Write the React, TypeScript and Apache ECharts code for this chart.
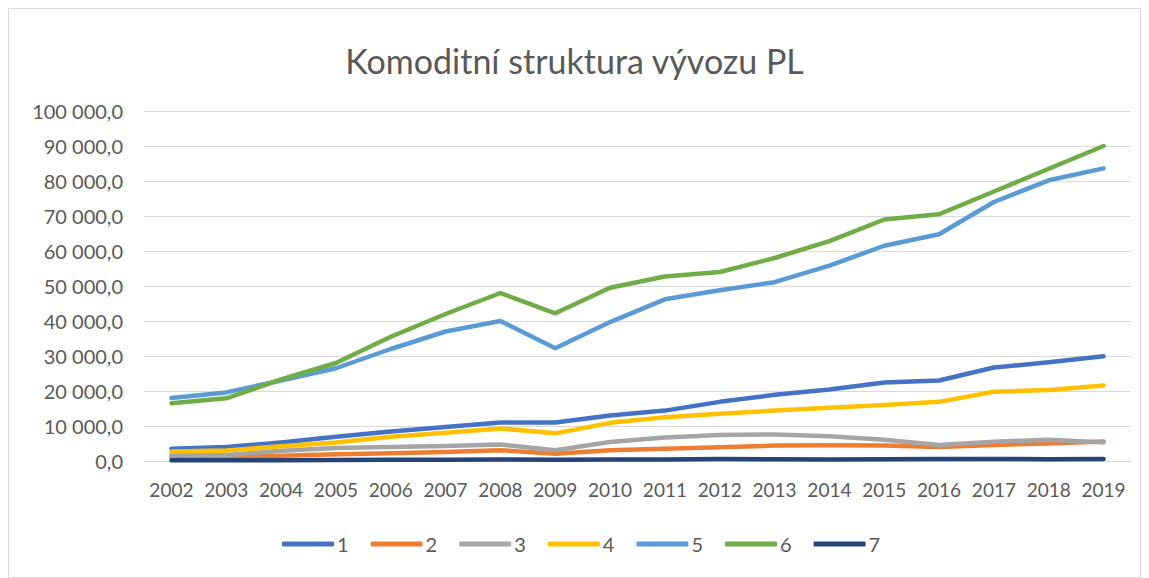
import React, { useEffect, useRef } from "react";
import * as echarts from "echarts";

const years = ["2002","2003","2004","2005","2006","2007","2008","2009","2010","2011","2012","2013","2014","2015","2016","2017","2018","2019"];
const seriesNames = ["1","2","3","4","5","6","7"];
const colors = ["#4472C4","#ED7D31","#A5A5A5","#FFC000","#5B9BD5","#70AD47","#264478"];

const s1 = [3500, 4000, 5300, 6900, 8400, 9700, 11000, 11000, 13000, 14400, 16900, 18900, 20400, 22400, 23000, 26700, 28200, 29900];
const s2 = [1000, 1200, 1500, 1900, 2200, 2600, 3100, 2100, 3100, 3500, 3900, 4400, 4500, 4400, 4000, 4600, 5000, 5600];
const s3 = [1700, 1700, 2900, 3700, 4000, 4300, 4700, 3100, 5400, 6700, 7400, 7600, 7100, 6100, 4600, 5500, 6100, 5300];
const s4 = [2700, 3000, 4200, 5300, 6900, 8100, 9300, 7900, 10900, 12500, 13500, 14400, 15200, 16000, 16900, 19800, 20300, 21600];
const s5 = [18000, 19600, 23000, 26500, 32000, 37000, 40000, 32200, 39700, 46200, 48800, 51100, 55800, 61500, 64800, 74000, 80200, 83600];
const s6 = [16500, 17900, 23300, 28000, 35500, 42000, 48000, 42200, 49500, 52700, 54000, 58000, 62800, 69000, 70500, 77000, 83500, 90000];
const s7 = [200, 200, 250, 300, 350, 380, 450, 350, 400, 420, 550, 500, 450, 500, 550, 600, 500, 600];
const allSeries = [s1, s2, s3, s4, s5, s6, s7];

const yTicks = [0, 10000, 20000, 30000, 40000, 50000, 60000, 70000, 80000, 90000, 100000];

const fmt = (v: number) => {
  const int = Math.round(v).toString().replace(/\B(?=(\d{3})+(?!\d))/g, " ");
  return int + ",0";
};

const FONT = "Lato, 'Open Sans', sans-serif";

export default function App() {
  const ref = useRef<HTMLDivElement>(null);
  useEffect(() => {
    if (!ref.current) return;
    const chart = echarts.init(ref.current, null, { renderer: "svg" });
    chart.setOption({
      animation: false,
      backgroundColor: "#ffffff",
      title: {
        text: "Komoditní struktura vývozu PL",
        left: "center",
        top: 29,
        textStyle: { fontFamily: FONT, fontSize: 34, fontWeight: "normal", color: "#595959" },
      },
      legend: {
        bottom: 18,
        left: 268,
        data: seriesNames,
        icon: "roundRect",
        itemWidth: 52,
        itemHeight: 5,
        itemGap: 22,
        textStyle: { fontFamily: FONT, fontSize: 20, color: "#595959", padding: [0, 0, 0, -2] },
      },
      grid: { left: 135, right: 9, top: 102, bottom: 116, containLabel: false },
      xAxis: {
        type: "category",
        data: years,
        boundaryGap: true,
        axisLine: { show: true, lineStyle: { color: "#d9d9d9", width: 1 } },
        axisTick: { show: false },
        axisLabel: { interval: 0, hideOverlap: false, fontFamily: FONT, fontSize: 19, color: "#595959", margin: 19 },
      },
      yAxis: {
        type: "value",
        min: yTicks[0],
        max: yTicks[yTicks.length - 1],
        interval: 10000,
        axisLine: { show: false },
        axisTick: { show: false },
        splitLine: { lineStyle: { color: "#d9d9d9", width: 1 } },
        axisLabel: { fontFamily: FONT, fontSize: 20, color: "#595959", margin: 21, formatter: (v: number) => fmt(v) },
      },
      series: allSeries.map((d, i) => ({
        name: seriesNames[i],
        type: "line",
        data: d,
        symbol: "none",
        color: colors[i],
        lineStyle: { width: 4.5, color: colors[i], cap: "round", join: "round" },
      })),
    });
    return () => chart.dispose();
  }, []);
  return (
    <div
      ref={ref}
      style={{ width: 1133, height: 570, border: "1px solid #d9d9d9", boxSizing: "border-box" }}
    />
  );
}
